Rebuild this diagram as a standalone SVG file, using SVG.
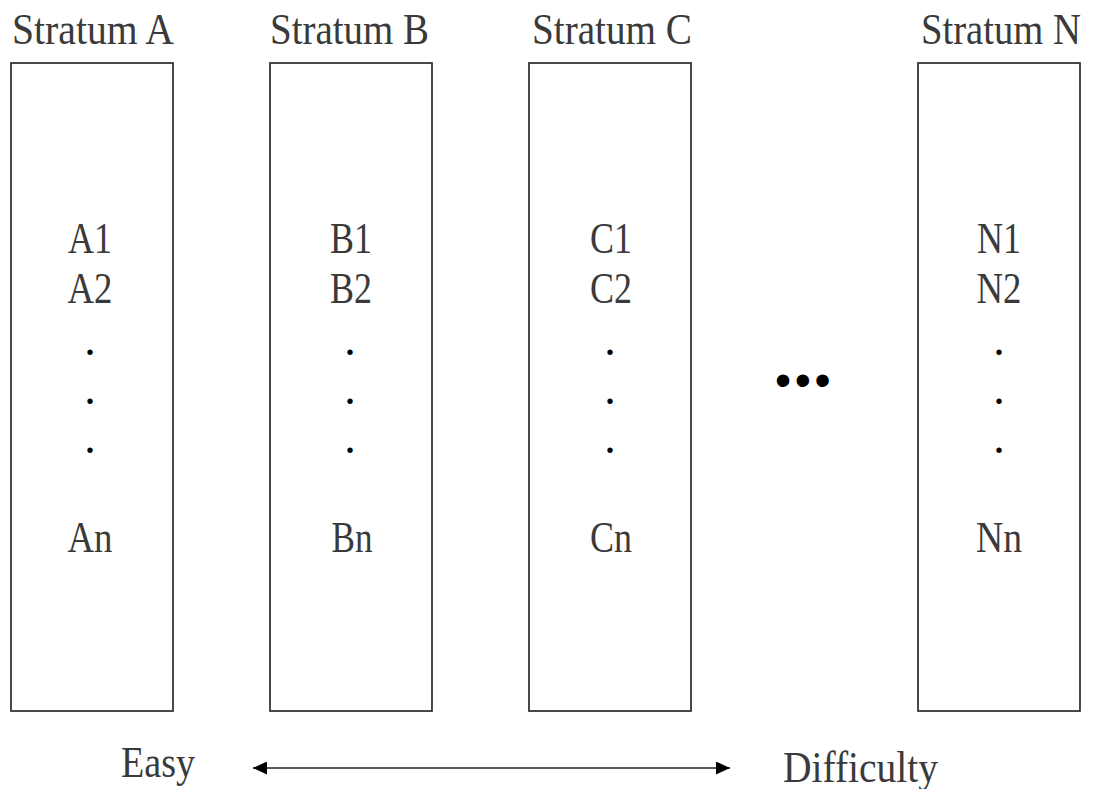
<svg xmlns="http://www.w3.org/2000/svg" width="1094" height="789" viewBox="0 0 1094 789">
<defs>
<style>
.box{fill:#fff;stroke:#2a2a2a;stroke-width:1.7}
.t{font-family:"Liberation Serif","Times New Roman",serif;font-size:44px;fill:#3a3a3a}
.m{text-anchor:middle}
.dot{font-family:"Liberation Serif","Times New Roman",serif;font-size:46px;fill:#000;text-anchor:middle}
.conn{stroke:#222;stroke-width:1.6;fill:none}
</style>
<marker id="ah" viewBox="0 0 14 13" refX="14" refY="6.5" markerWidth="14" markerHeight="13" markerUnits="userSpaceOnUse" orient="auto-start-reverse">
<path d="M0,0 L14,6.5 L0,13 Z" fill="#000"/>
</marker>
</defs>
<rect width="1094" height="789" fill="#fff"/>
<g id="stratumA">
<text class="t" x="12" y="44" textLength="162" lengthAdjust="spacingAndGlyphs">Stratum A</text>
<rect class="box" x="11" y="63" width="162" height="648"/>
<text class="t m" x="90" y="253" textLength="44" lengthAdjust="spacingAndGlyphs">A1</text>
<text class="t m" x="90" y="303" textLength="45" lengthAdjust="spacingAndGlyphs">A2</text>
<text class="dot" x="90" y="355">.</text>
<text class="dot" x="90" y="404">.</text>
<text class="dot" x="90" y="453">.</text>
<text class="t m" x="90" y="552" textLength="45" lengthAdjust="spacingAndGlyphs">An</text>
</g>
<g id="stratumB">
<text class="t" x="270" y="44" textLength="159" lengthAdjust="spacingAndGlyphs">Stratum B</text>
<rect class="box" x="270" y="63" width="162" height="648"/>
<text class="t m" x="351" y="253" textLength="42" lengthAdjust="spacingAndGlyphs">B1</text>
<text class="t m" x="351" y="303" textLength="42" lengthAdjust="spacingAndGlyphs">B2</text>
<text class="dot" x="350" y="355">.</text>
<text class="dot" x="350" y="404">.</text>
<text class="dot" x="350" y="453">.</text>
<text class="t m" x="352" y="552" textLength="41" lengthAdjust="spacingAndGlyphs">Bn</text>
</g>
<g id="stratumC">
<text class="t" x="532" y="44" textLength="160" lengthAdjust="spacingAndGlyphs">Stratum C</text>
<rect class="box" x="529" y="63" width="162" height="648"/>
<text class="t m" x="611" y="253" textLength="42" lengthAdjust="spacingAndGlyphs">C1</text>
<text class="t m" x="611" y="303" textLength="42" lengthAdjust="spacingAndGlyphs">C2</text>
<text class="dot" x="610" y="355">.</text>
<text class="dot" x="610" y="404">.</text>
<text class="dot" x="610" y="453">.</text>
<text class="t m" x="611" y="552" textLength="42" lengthAdjust="spacingAndGlyphs">Cn</text>
</g>
<g id="ellipsis">
<text x="775" y="396" style="font-family:'Liberation Sans',Arial,sans-serif;font-size:46px;fill:#000;letter-spacing:3.7px">•••</text>
</g>
<g id="stratumN">
<text class="t" x="921" y="44" textLength="160" lengthAdjust="spacingAndGlyphs">Stratum N</text>
<rect class="box" x="918" y="63" width="162" height="648"/>
<text class="t m" x="999" y="253" textLength="44" lengthAdjust="spacingAndGlyphs">N1</text>
<text class="t m" x="999" y="303" textLength="45" lengthAdjust="spacingAndGlyphs">N2</text>
<text class="dot" x="999" y="355">.</text>
<text class="dot" x="999" y="404">.</text>
<text class="dot" x="999" y="453">.</text>
<text class="t m" x="999" y="552" textLength="46" lengthAdjust="spacingAndGlyphs">Nn</text>
</g>
<g id="labels">
<text class="t" x="121" y="777" textLength="74" lengthAdjust="spacingAndGlyphs">Easy</text>
<text class="t" x="783" y="782" textLength="155" lengthAdjust="spacingAndGlyphs">Difficulty</text>
</g>
<g id="connectors">
<line class="conn" x1="253" y1="768" x2="730" y2="768" marker-start="url(#ah)" marker-end="url(#ah)"/>
</g>
</svg>
